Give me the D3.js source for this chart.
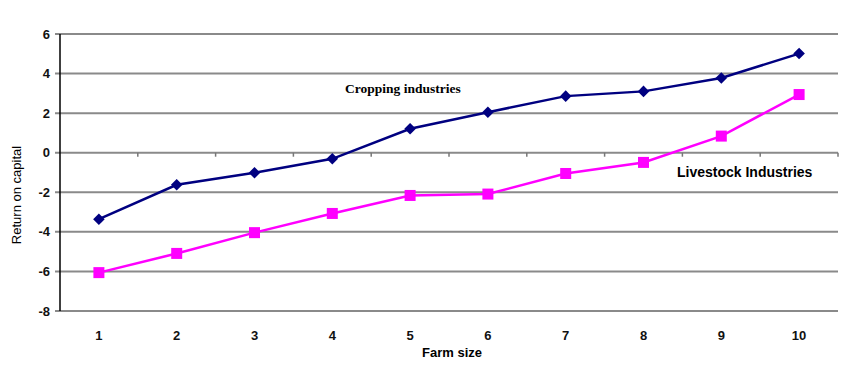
<!DOCTYPE html>
<html>
<head>
<meta charset="utf-8">
<title>Return on capital by farm size</title>
<script src="https://d3js.org/d3.v7.min.js"></script>
<style>
  body { margin: 0; background: #fff; }
  svg { display: block; font-family: "Liberation Sans", Arial, sans-serif; }
  .grid line { stroke: #8a8a8a; stroke-width: 2; }
  .tick-label { font-size: 13px; font-weight: bold; fill: #111; }
</style>
</head>
<body>
<div id="chart"></div>
<script>
// data
var farmSizes = [1, 2, 3, 4, 5, 6, 7, 8, 9, 10];
var cropping = [-3.36, -1.62, -1.01, -0.31, 1.21, 2.05, 2.86, 3.1, 3.78, 5.01];
var livestock = [-6.06, -5.09, -4.04, -3.07, -2.16, -2.09, -1.05, -0.49, 0.84, 2.94];
var yTicks = [6, 4, 2, 0, -2, -4, -6, -8];

var width = 862,
    height = 371;

var margin = {left: 60, right: 24, top: 34, bottom: 60};

var x = d3.scaleBand()
    .domain(farmSizes)
    .range([margin.left, width - margin.right]);

var y = d3.scaleLinear()
    .domain([-8, 6])
    .range([height - margin.bottom, margin.top]);

var svg = d3.select("#chart").append("svg")
    .attr("width", width)
    .attr("height", height);

// gridlines
svg.append("g")
    .attr("class", "grid")
    .selectAll("line")
    .data(yTicks)
    .enter().append("line")
    .attr("x1", margin.left - 5)
    .attr("x2", width - margin.right)
    .attr("y1", function(d) { return y(d); })
    .attr("y2", function(d) { return y(d); });

// y axis line
svg.append("line")
    .attr("x1", margin.left).attr("x2", margin.left)
    .attr("y1", y(6)).attr("y2", y(-8))
    .attr("stroke", "#000").attr("stroke-width", 1.5);

// category ticks along the zero line
svg.append("g")
    .selectAll("line")
    .data(farmSizes.slice(1).concat(["end"]))
    .enter().append("line")
    .attr("x1", function(d) { return d === "end" ? x.range()[1] : x(d); })
    .attr("x2", function(d) { return d === "end" ? x.range()[1] : x(d); })
    .attr("y1", y(0))
    .attr("y2", y(0) + 4)
    .attr("stroke", "#777").attr("stroke-width", 1.5);

// y tick labels
svg.append("g")
    .selectAll("text")
    .data(yTicks)
    .enter().append("text")
    .attr("class", "tick-label")
    .attr("x", margin.left - 10)
    .attr("y", function(d) { return y(d); })
    .attr("dy", "0.35em")
    .attr("text-anchor", "end")
    .text(function(d) { return d; });

// x tick labels
svg.append("g")
    .selectAll("text")
    .data(farmSizes)
    .enter().append("text")
    .attr("class", "tick-label")
    .attr("x", function(d) { return x(d) + x.bandwidth() / 2; })
    .attr("y", y(-8) + 29)
    .attr("text-anchor", "middle")
    .text(function(d) { return d; });

// axis titles
svg.append("text")
    .attr("x", 452)
    .attr("y", 357)
    .attr("text-anchor", "middle")
    .attr("font-size", 13)
    .attr("font-weight", "bold")
    .text("Farm size");

svg.append("text")
    .attr("transform", "translate(21,195) rotate(-90)")
    .attr("text-anchor", "middle")
    .attr("font-size", 13)
    .text("Return on capital");

var line = d3.line()
    .x(function(d, i) { return x(farmSizes[i]) + x.bandwidth() / 2; })
    .y(function(d) { return y(d); });

// cropping series
svg.append("path")
    .datum(cropping)
    .attr("fill", "none")
    .attr("stroke", "#000080")
    .attr("stroke-width", 2.5)
    .attr("d", line);

svg.append("g")
    .selectAll("path")
    .data(cropping)
    .enter().append("path")
    .attr("d", d3.symbol().type(d3.symbolDiamond2).size(85))
    .attr("transform", function(d, i) {
        return "translate(" + (x(farmSizes[i]) + x.bandwidth() / 2) + "," + y(d) + ")";
    })
    .attr("fill", "#000080");

// livestock series
svg.append("path")
    .datum(livestock)
    .attr("fill", "none")
    .attr("stroke", "#ff00ff")
    .attr("stroke-width", 2.5)
    .attr("d", line);

svg.append("g")
    .selectAll("rect")
    .data(livestock)
    .enter().append("rect")
    .attr("x", function(d, i) { return x(farmSizes[i]) + x.bandwidth() / 2 - 5.5; })
    .attr("y", function(d) { return y(d) - 5.5; })
    .attr("width", 11)
    .attr("height", 11)
    .attr("fill", "#ff00ff");

// series labels
svg.append("text")
    .attr("x", 345)
    .attr("y", 93)
    .attr("font-family", "'Liberation Serif', 'Times New Roman', serif")
    .attr("font-size", 13.5)
    .attr("font-weight", "bold")
    .text("Cropping industries");

svg.append("text")
    .attr("x", 677)
    .attr("y", 177)
    .attr("font-size", 14)
    .attr("font-weight", "bold")
    .text("Livestock Industries");
</script>
</body>
</html>
